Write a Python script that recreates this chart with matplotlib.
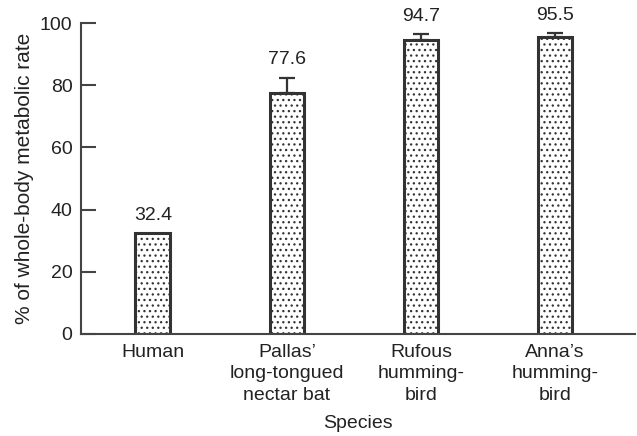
import matplotlib
matplotlib.use('Agg')
import matplotlib.pyplot as plt

species = ['Human', 'Pallas\u2019\nlong-tongued\nnectar bat', 'Rufous\nhumming-\nbird', 'Anna\u2019s\nhumming-\nbird']
values = [32.4, 77.6, 94.7, 95.5]
errors = [0.0, 4.8, 1.7, 1.3]

plt.rcParams['font.family'] = ['Liberation Sans', 'DejaVu Sans']
plt.rcParams['hatch.color'] = '#8a8a8a'
plt.rcParams['hatch.linewidth'] = 0.9

fig = plt.figure(figsize=(6.37, 4.36), dpi=100)
ax = fig.add_axes([0.127, 0.234, 0.870, 0.713])

x = list(range(len(species)))
ax.bar(x, values, width=0.26, color='white', edgecolor='#333333', linewidth=2.2,
       hatch='...', zorder=2)
ex = [xi for xi, e in zip(x, errors) if e > 0]
ev = [v for v, e in zip(values, errors) if e > 0]
ee = [e for e in errors if e > 0]
ax.errorbar(ex, ev, yerr=[[0] * len(ee), ee], fmt='none', ecolor='#333333',
            elinewidth=1.6, capsize=6, capthick=1.6, zorder=3)

for xi, v, e in zip(x, values, errors):
    ax.text(xi, v + e + 3, f'{v}', ha='center', va='bottom', fontsize=14, color='#222222')

ax.set_xlim(-0.537, 3.597)
ax.set_ylim(0, 100)
ax.set_yticks([0, 20, 40, 60, 80, 100])
ax.set_xticks(x)
ax.set_xticklabels(species, fontsize=14, color='#222222', linespacing=1.35)
ax.tick_params(axis='x', length=0, pad=7)
ax.tick_params(axis='y', direction='in', length=11, width=1.5, color='#444444',
               labelsize=14, labelcolor='#222222', pad=6)
for s in ['top', 'right']:
    ax.spines[s].set_visible(False)
for s in ['left', 'bottom']:
    ax.spines[s].set_color('#444444')
    ax.spines[s].set_linewidth(1.5)

ax.set_ylabel('% of whole-body metabolic rate', fontsize=15, color='#222222', labelpad=4)
ax.set_xlabel('Species', fontsize=14, color='#222222', labelpad=8)

fig.savefig('out.png', dpi=100)
